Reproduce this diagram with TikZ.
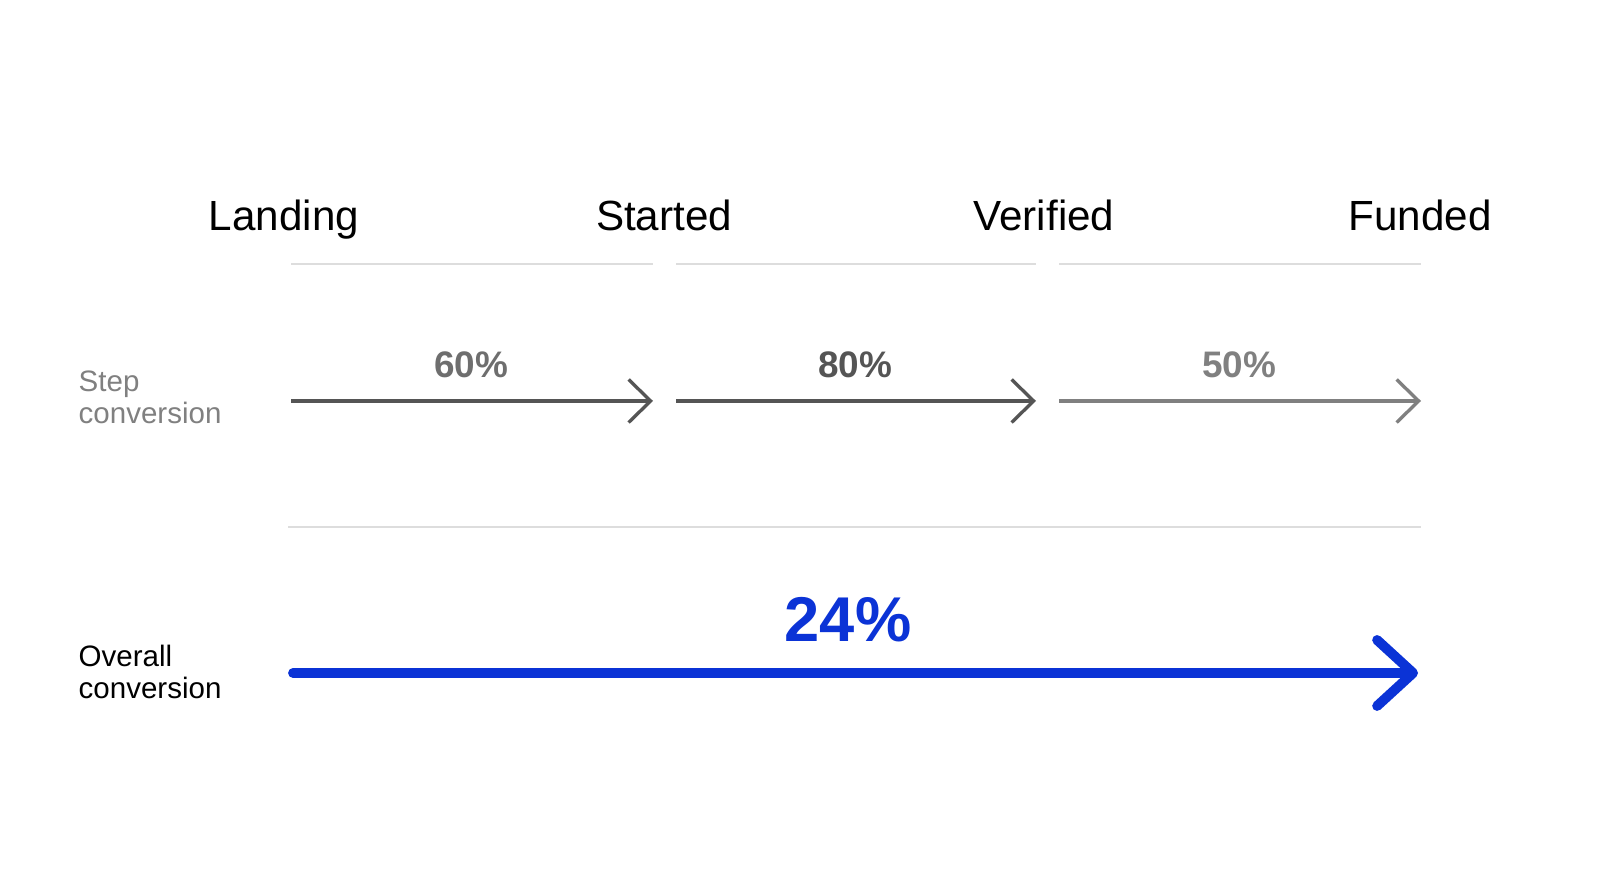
\documentclass[tikz,border=0pt]{standalone}
\usepackage{fontspec}
\setmainfont{Liberation Sans}
\usetikzlibrary{arrows.meta}
\definecolor{stepdark}{HTML}{555555}
\definecolor{steplight}{HTML}{808080}
\definecolor{rulegray}{HTML}{DDDDDD}
\definecolor{overallblue}{HTML}{0B33D6}
\tikzset{
	stage/.style={anchor=base,font=\fontsize{12}{14}\selectfont},
	rate/.style={anchor=base,font=\fontsize{10.5}{12}\selectfont\bfseries},
	rowlabel/.style={anchor=west,align=left,inner xsep=0pt,font=\fontsize{8.4}{9.1}\selectfont},
	sep/.style={draw=rulegray,line width=0.5pt},
	steparrow/.style={line width=0.95pt,-{Straight Barb[length=2.2mm,width=4.3mm]}},
}
\begin{document}
\begin{tikzpicture}
	\useasboundingbox (0,0) rectangle (16,8.93);
	%Giai doan
	\node[stage] (landing) at (2.84,6.62) {Landing};
	\node[stage] (started) at (6.64,6.62) {Started};
	\node[stage] (verified) at (10.44,6.62) {Verified};
	\node[stage] (funded) at (14.20,6.62) {Funded};
	%Diem dau, diem cuoi
	\coordinate (a1) at (2.91,4.92); \coordinate (b1) at (6.53,4.92);
	\coordinate (a2) at (6.76,4.92); \coordinate (b2) at (10.36,4.92);
	\coordinate (a3) at (10.59,4.92); \coordinate (b3) at (14.21,4.92);
	%Duong ke tren
	\draw[sep] (2.91,6.29) -- (6.53,6.29);
	\draw[sep] (6.76,6.29) -- (10.36,6.29);
	\draw[sep] (10.59,6.29) -- (14.21,6.29);
	%Mui ten tung buoc
	\draw[steparrow,stepdark] (a1) -- (b1);
	\draw[steparrow,stepdark] (a2) -- (b2);
	\draw[steparrow,steplight] (a3) -- (b3);
	\node[rate,text=stepdark!85] (r1) at (4.71,5.15) {60\%};
	\node[rate,text=stepdark] (r2) at (8.55,5.15) {80\%};
	\node[rate,text=steplight] (r3) at (12.39,5.15) {50\%};
	\node[rowlabel,text=steplight] (steplbl) at (0.78,4.96) {Step\\conversion};
	%Duong ke giua
	\draw[sep] (2.88,3.66) -- (14.21,3.66);
	%Mui ten tong
	\coordinate (c0) at (2.93,2.20);
	\coordinate (c1) at (14.18,2.20);
	\draw[overallblue,line width=2.8pt,line cap=round,-{Straight Barb[length=3.6mm,width=6.6mm,round]}] (c0) -- (c1);
	\node[anchor=base,text=overallblue,font=\fontsize{18}{20}\selectfont\bfseries] (total) at (8.48,2.51) {24\%};
	\node[rowlabel,text=black] (overalllbl) at (0.78,2.21) {Overall\\conversion};
\end{tikzpicture}
\end{document}
